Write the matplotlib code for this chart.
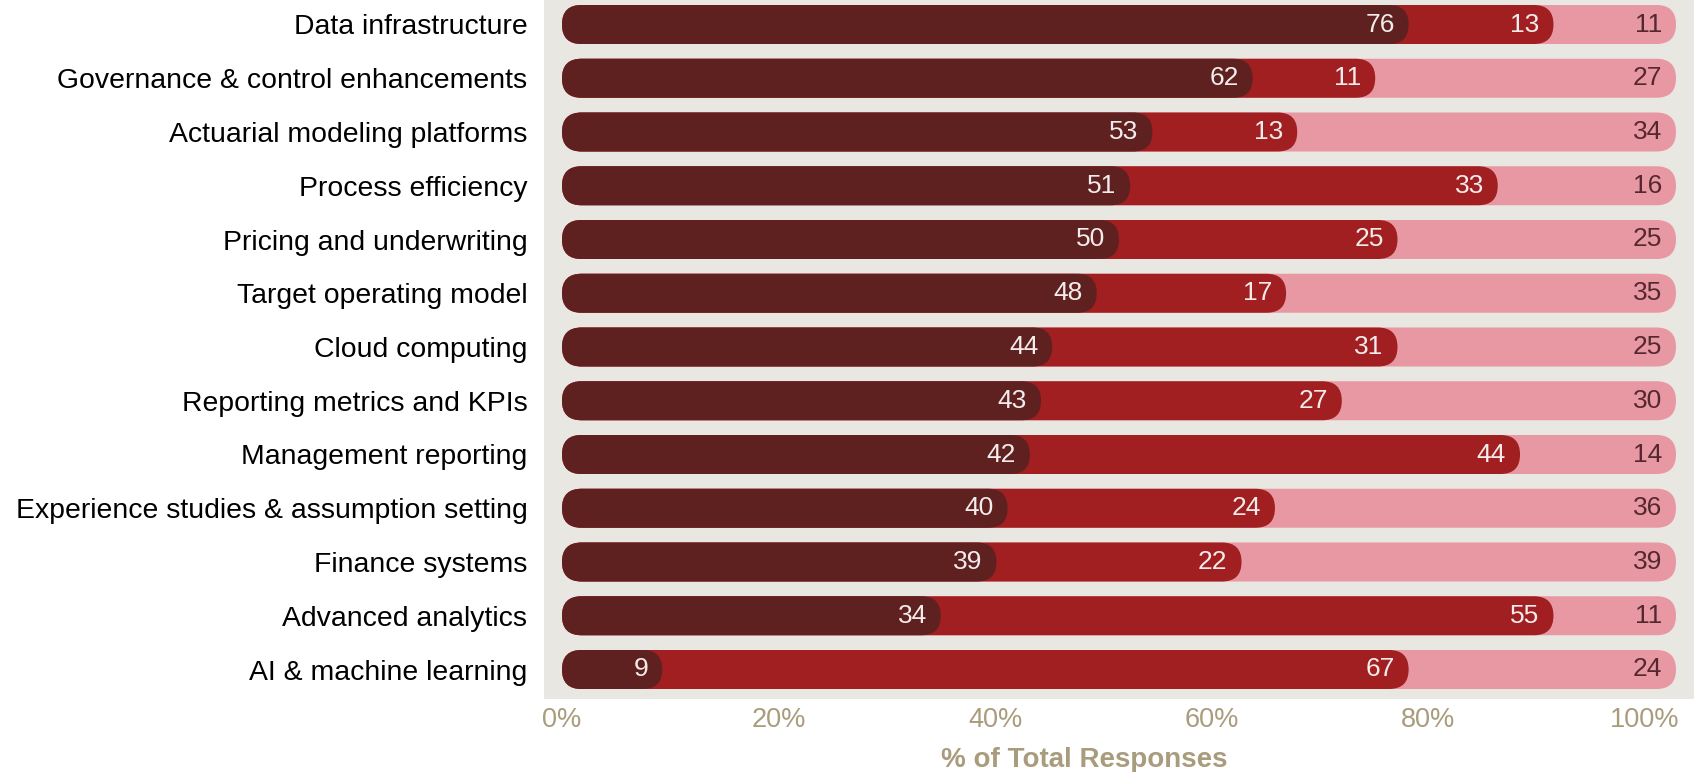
import numpy as np
import matplotlib
matplotlib.use("Agg")
import matplotlib.pyplot as plt
from matplotlib.patches import FancyBboxPatch

# --------- dados ---------
categories = [
    "Data infrastructure",
    "Governance & control enhancements",
    "Actuarial modeling platforms",
    "Process efficiency",
    "Pricing and underwriting",
    "Target operating model",
    "Cloud computing",
    "Reporting metrics and KPIs",
    "Management reporting",
    "Experience studies & assumption setting",
    "Finance systems",
    "Advanced analytics",
    "AI & machine learning",
]
seg_dark = [76, 62, 53, 51, 50, 48, 44, 43, 42, 40, 39, 34, 9]
seg_red = [13, 11, 13, 33, 25, 17, 31, 27, 44, 24, 22, 55, 67]
seg_pink = [11, 27, 34, 16, 25, 35, 25, 30, 14, 36, 39, 11, 24]
tick_pcts = [0, 20, 40, 60, 80, 100]

# --------- estilo ---------
C_BG = "#e8e7e2"
C_DARK = "#5f2120"
C_RED = "#a11e21"
C_PINK = "#e898a2"
C_TAN = "#a89c7c"
C_PINK_TXT = "#55282f"
FONT = "Liberation Sans"

W, H, DPI = 1694, 772, 100
AX_L, AX_R, AX_B, AX_T = 544, 1694, 699, 0      # px
X0_PX, X100_PX = 562, 1676                        # bar scale in px
ROW_PX = 53.75
TOP_ROW_PX = 24.5
BAR_PX = 39
LABEL_STRETCH = (X100_PX - X0_PX) / (1645 - X0_PX)  # tick row is a bit narrower than the bars

px_per_x = (X100_PX - X0_PX) / 100.0
xlim = ((AX_L - X0_PX) / px_per_x, 100 + (AX_R - X100_PX) / px_per_x)
n = len(categories)
ylim = (n - 1 + (AX_B - (TOP_ROW_PX + (n - 1) * ROW_PX)) / ROW_PX, -TOP_ROW_PX / ROW_PX)

fig = plt.figure(figsize=(W / DPI, H / DPI), dpi=DPI)
ax = fig.add_axes([AX_L / W, (H - AX_B) / H, (AX_R - AX_L) / W, (AX_B - AX_T) / H])
ax.set_facecolor(C_BG)
ax.set_xlim(*xlim)
ax.set_ylim(*ylim)

bar_h = BAR_PX / ROW_PX
r_x = (BAR_PX / 2) / px_per_x
aspect = (1 / ROW_PX) / (1 / px_per_x)


def rounded_bar(y, length, color):
    p = FancyBboxPatch((0, y - bar_h / 2), length, bar_h,
                       boxstyle=f"round,pad=0,rounding_size={r_x}",
                       mutation_aspect=aspect, linewidth=0,
                       facecolor=color, edgecolor="none", zorder=2)
    ax.add_patch(p)


txt_off = 14 / px_per_x
for i in range(n):
    a, b, c = seg_dark[i], seg_red[i], seg_pink[i]
    rounded_bar(i, a + b + c, C_PINK)
    rounded_bar(i, a + b, C_RED)
    rounded_bar(i, a, C_DARK)
    kw = dict(ha="right", va="center", fontsize=19, family=FONT, zorder=3)
    ax.text(a - txt_off, i, str(a), color="#f3ecec", **kw)
    ax.text(a + b - txt_off, i, str(b), color="#f3ecec", **kw)
    ax.text(a + b + c - txt_off, i, str(c), color=C_PINK_TXT, **kw)

ax.set_yticks(range(n), labels=categories)
ax.set_xticks(np.array(tick_pcts) / LABEL_STRETCH, labels=[f"{t}%" for t in tick_pcts])
ax.tick_params(axis="y", length=0, pad=12, labelsize=20.4, labelcolor="black")
ax.tick_params(axis="x", length=0, pad=6, labelsize=19.5, labelcolor=C_TAN)
for lab in ax.get_xticklabels() + ax.get_yticklabels():
    lab.set_family(FONT)

ax.set_xlabel("% of Total Responses", fontsize=20, fontweight="bold",
              color=C_TAN, family=FONT)
ax.xaxis.set_label_coords((1084 - AX_L) / (AX_R - AX_L), -0.069)
for s in ax.spines.values():
    s.set_visible(False)

fig.savefig("out.png", dpi=DPI)
